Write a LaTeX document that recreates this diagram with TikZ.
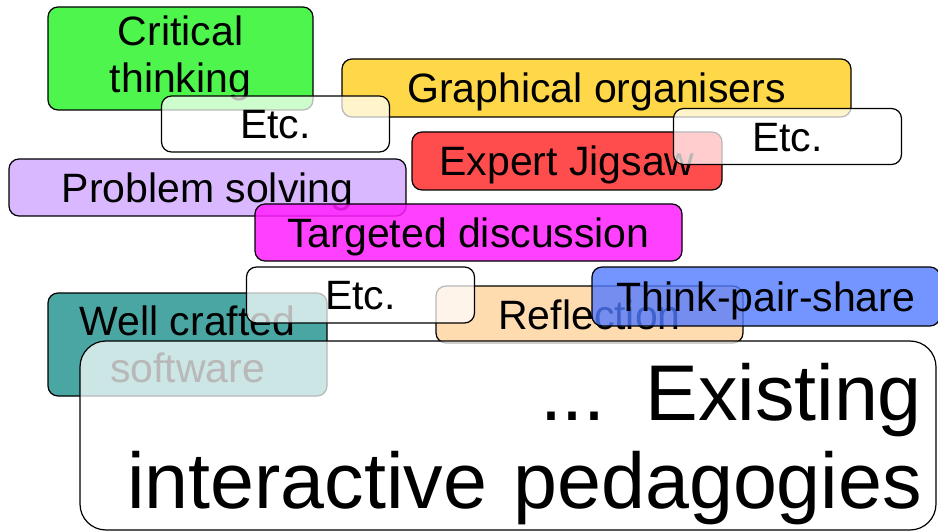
\documentclass[tikz,border=0pt]{standalone}
\usepackage{fontspec}
\setmainfont{Liberation Sans}
\usetikzlibrary{positioning}
\definecolor{critgreen}{RGB}{46,243,46}
\definecolor{orgyellow}{RGB}{255,209,42}
\definecolor{jigred}{RGB}{255,46,46}
\definecolor{solvepurple}{RGB}{210,172,255}
\definecolor{discmagenta}{RGB}{255,30,255}
\definecolor{softteal}{RGB}{42,150,147}
\definecolor{reflpeach}{RGB}{255,213,162}
\definecolor{tpsblue}{RGB}{81,122,255}
\begin{document}
\begin{tikzpicture}[x=1pt,y=-1pt,
    tile/.style={rectangle,draw,line width=1.2pt,rounded corners=10pt,inner sep=0pt,
      fill opacity=0.85,text opacity=1,font=\fontsize{41}{47}\selectfont},
    oneline/.style={text height=29.5pt,text depth=0pt},
    etcbox/.style={tile,oneline,fill=white,fill opacity=0.72,minimum width=228pt,minimum height=56pt}]
    \useasboundingbox (0,0) rectangle (938,532);

    \node at (180.5, 58.5) [tile, fill=critgreen, align=center, minimum width=265pt, minimum height=103pt] (crit) {Critical\\thinking};
    \node at (596.5, 88) [tile, oneline, fill=orgyellow, minimum width=509pt, minimum height=58pt] (graph) {Graphical organisers};
    \node at (275.5, 124) [etcbox] (etcA) {Etc.};
    \node at (207.5, 187.5) [tile, oneline, fill=solvepurple, minimum width=397pt, minimum height=57pt] (prob) {Problem solving};
    \node at (567, 161) [tile, oneline, fill=jigred, minimum width=310pt, minimum height=58pt] (jig) {Expert Jigsaw};
    \node at (787.5, 136.5) [etcbox] (etcB) {Etc.};
    \node at (468.5, 232.5) [tile, oneline, fill=discmagenta, minimum width=427pt, minimum height=57pt] (disc) {Targeted discussion};
    \node at (187.5, 344.5) [tile, fill=softteal, align=center, minimum width=279pt, minimum height=103pt] (soft) {Well crafted\\software};
    \node at (589.5, 314.5) [tile, oneline, fill=reflpeach, minimum width=307pt, minimum height=57pt] (refl) {Reflection};
    \node at (360.5, 295) [etcbox] (etcC) {Etc.};
    \node at (766, 296.5) [tile, oneline, fill=tpsblue, fill opacity=0.8, minimum width=348pt, minimum height=59pt] (tps) {Think-pair-share};

    \node at (508, 435.5) [tile, fill=white, fill opacity=0.72, rounded corners=26pt, minimum width=856pt, minimum height=189pt,
      inner xsep=14pt, text width=828pt, align=right, text depth=88pt, font=\fontsize{79}{88}\selectfont] (exist) {... Existing\\interactive pedagogies};
\end{tikzpicture}
\end{document}
